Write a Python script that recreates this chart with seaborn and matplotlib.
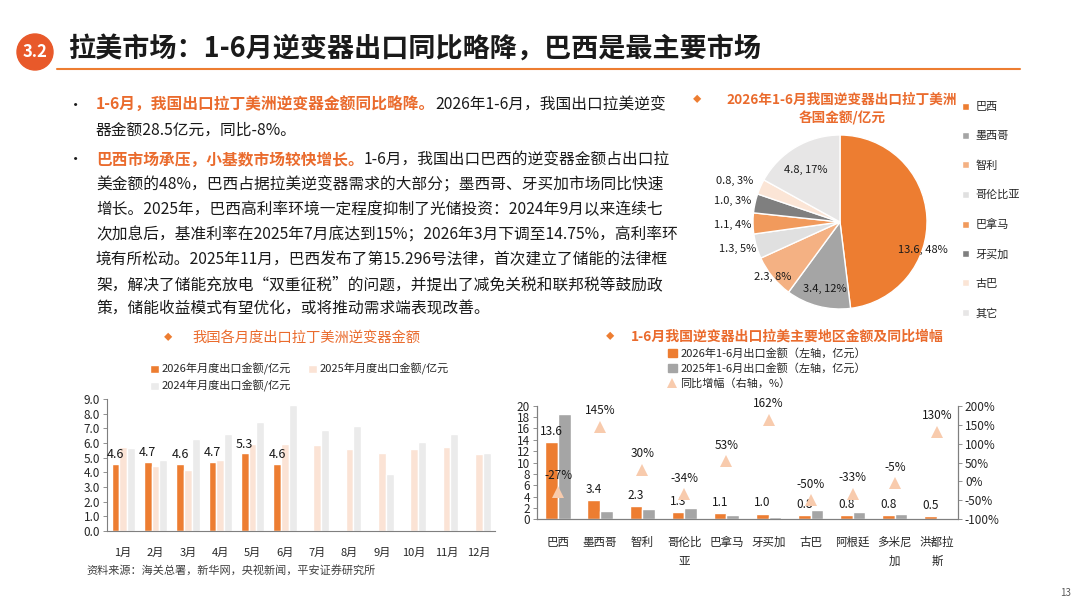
import numpy as np
import pandas as pd
import seaborn as sns
import matplotlib.pyplot as plt
from matplotlib.patches import Circle, Patch
from matplotlib.lines import Line2D
from matplotlib.ticker import FuncFormatter

sns.set_theme(style='white')
plt.rcParams['font.family'] = ['Noto Sans CJK SC', 'DejaVu Sans']
plt.rcParams['axes.unicode_minus'] = False

ORANGE = '#ED7D31'
TITLE_ORANGE = '#EA6B2D'
TEXT = '#1A1A1A'
AXIS = '#7F7F7F'

# ---- data: monthly exports to Latin America (亿元)
months = ['1月', '2月', '3月', '4月', '5月', '6月', '7月', '8月', '9月', '10月', '11月', '12月']
export_2026 = [4.6, 4.7, 4.6, 4.7, 5.3, 4.6, np.nan, np.nan, np.nan, np.nan, np.nan, np.nan]
export_2025 = [5.75, 4.43, 4.15, 4.84, 5.91, 5.94, 5.87, 5.59, 5.30, 5.57, 5.75, 5.25]
export_2024 = [5.64, 4.84, 6.26, 6.62, 7.40, 8.61, 6.89, 7.19, 3.86, 6.10, 6.62, 5.30]
month_series = ['2026年月度出口金额/亿元', '2025年月度出口金额/亿元', '2024年月度出口金额/亿元']

# ---- data: H1 exports by region
regions = ['巴西', '墨西哥', '智利', '哥伦比亚', '巴拿马', '牙买加', '古巴', '阿根廷', '多米尼加', '洪都拉斯']
region_ticks = ['巴西', '墨西哥', '智利', '哥伦比\n亚', '巴拿马', '牙买加', '古巴', '阿根廷', '多米尼\n加', '洪都拉\n斯']
h1_2026 = [13.6, 3.4, 2.3, 1.3, 1.1, 1.0, 0.8, 0.8, 0.8, 0.5]
h1_2025 = [18.6, 1.4, 1.8, 2.0, 0.7, 0.4, 1.6, 1.2, 0.85, 0.2]
yoy = [-27, 145, 30, -34, 53, 162, -50, -33, -5, 130]
region_series = ['2026年1-6月出口金额（左轴，亿元）', '2025年1-6月出口金额（左轴，亿元）']

# ---- data: pie
pie_labels = ['巴西', '墨西哥', '智利', '哥伦比亚', '巴拿马', '牙买加', '古巴', '其它']
pie_values = [13.6, 3.4, 2.3, 1.3, 1.1, 1.0, 0.8, 4.8]
pie_shares = [48, 12, 8, 5, 4, 3, 3, 17]
pie_colors = ['#ED7D31', '#A5A5A5', '#F4B183', '#E0E0E0', '#F19A5C', '#7F7F7F', '#FBE5D6', '#E7E6E6']
# label anchor points, in pie-radius units (layout only)
pie_label_pos = [(0.95, -0.32), (-0.18, -0.77), (-0.77, -0.63), (-1.18, -0.31),
                 (-1.23, -0.03), (-1.23, 0.24), (-1.21, 0.47), (-0.39, 0.60)]

fig = plt.figure(figsize=(10.8, 6.08), dpi=100)
bg = fig.add_axes([0, 0, 1, 1])
bg.set_xlim(0, 1080)
bg.set_ylim(608, 0)
bg.axis('off')

# header
bg.add_patch(Circle((35, 52), 18, color='#E8592A'))
bg.text(35, 52, '3.2', color='white', fontsize=12, fontweight='bold', ha='center', va='center')
bg.text(68, 50, '拉美市场：1-6月逆变器出口同比略降，巴西是最主要市场', fontsize=19.5,
        fontweight='bold', va='center', color=TEXT)
bg.plot([57, 1020], [69, 69], color=ORANGE, lw=1.5)

# body text
def rich_line(y, parts, x=96, size=11.3):
    prev = None
    for txt, color, weight in parts:
        if prev is None:
            prev = bg.text(x, y, txt, color=color, fontweight=weight, fontsize=size, va='center')
        else:
            prev = bg.annotate(txt, xy=(1, 0), xycoords=prev, va='bottom', color=color,
                               fontweight=weight, fontsize=size)

lines = [
    (105, [('1-6月，我国出口拉丁美洲逆变器金额同比略降。', TITLE_ORANGE, 'bold'),
           ('2026年1-6月，我国出口拉美逆变', TEXT, 'normal')]),
    (130, [('器金额28.5亿元，同比-8%。', TEXT, 'normal')]),
    (160, [('巴西市场承压，小基数市场较快增长。', TITLE_ORANGE, 'bold'),
           ('1-6月，我国出口巴西的逆变器金额占出口拉', TEXT, 'normal')]),
    (185, [('美金额的48%，巴西占据拉美逆变器需求的大部分；墨西哥、牙买加市场同比快速', TEXT, 'normal')]),
    (210, [('增长。2025年，巴西高利率环境一定程度抑制了光储投资：2024年9月以来连续七', TEXT, 'normal')]),
    (235, [('次加息后，基准利率在2025年7月底达到15%；2026年3月下调至14.75%，高利率环', TEXT, 'normal')]),
    (260, [('境有所松动。2025年11月，巴西发布了第15.296号法律，首次建立了储能的法律框', TEXT, 'normal')]),
    (285, [('架，解决了储能充放电“双重征税”的问题，并提出了减免关税和联邦税等鼓励政', TEXT, 'normal')]),
    (309, [('策，储能收益模式有望优化，或将推动需求端表现改善。', TEXT, 'normal')]),
]
for y, parts in lines:
    rich_line(y, parts)
for y in (105, 160):
    bg.text(76, y, '•', fontsize=11, color=TEXT, ha='center', va='center')

# chart titles
bg.text(168, 338, '◆', color=ORANGE, fontsize=6, ha='center', va='center')
bg.text(192, 338, '我国各月度出口拉丁美洲逆变器金额', color=TITLE_ORANGE, fontsize=10.3, va='center')
bg.text(610, 337, '◆', color=ORANGE, fontsize=6, ha='center', va='center')
bg.text(631, 337, '1-6月我国逆变器出口拉美主要地区金额及同比增幅', color=TITLE_ORANGE,
        fontsize=10, fontweight='bold', va='center')
bg.text(697, 100, '◆', color=ORANGE, fontsize=6, ha='center', va='center')
bg.text(842, 100, '2026年1-6月我国逆变器出口拉丁美洲', color=TITLE_ORANGE, fontsize=9.8,
        fontweight='bold', ha='center', va='center')
bg.text(842, 118, '各国金额/亿元', color=TITLE_ORANGE, fontsize=9.8,
        fontweight='bold', ha='center', va='center')

# ---- monthly bar chart
ax1 = fig.add_axes([0.0991, 0.1266, 0.3593, 0.2171])
df_m = pd.DataFrame({
    '月份': months * 3,
    '系列': [s for s in month_series for _ in months],
    '金额': export_2026 + export_2025 + export_2024,
})
sns.barplot(data=df_m, x='月份', y='金额', hue='系列', hue_order=month_series,
            palette=[ORANGE, '#FBE3D5', '#EBEBEB'], width=0.72, saturation=1,
            errorbar=None, ax=ax1)
handles, labels = ax1.get_legend_handles_labels()
ax1.get_legend().remove()
ax1.bar_label(ax1.containers[0], fmt='%.1f', padding=2, fontsize=9, color=TEXT)
ax1.set_ylim(0, 9)
ax1.set_yticks(np.arange(0, 9.1, 1.0))
ax1.yaxis.set_major_formatter(FuncFormatter(lambda v, p: f'{v:.1f}'))
ax1.set_xlabel('')
ax1.set_ylabel('')
for side in ('top', 'right'):
    ax1.spines[side].set_visible(False)
for side in ('left', 'bottom'):
    ax1.spines[side].set_color(AXIS)
    ax1.spines[side].set_linewidth(0.8)
ax1.tick_params(axis='y', left=True, length=3, width=0.6, color=AXIS, labelsize=8.5, pad=2)
ax1.tick_params(axis='x', bottom=False, labelsize=8, pad=6)
# legend laid out row-wise: 2026, 2025 / 2024
order = [0, 2, 1]
fig.legend([handles[i] for i in order], [labels[i] for i in order], ncol=2, loc='upper left',
           bbox_to_anchor=(150 / 1080, 1 - 363 / 608),
           frameon=False, fontsize=8, handlelength=0.8, handleheight=0.8, handletextpad=0.2,
           columnspacing=1.6, labelspacing=0.45, borderpad=0, borderaxespad=0)

# ---- regional bar chart with YoY on twin axis
ax2 = fig.add_axes([0.4972, 0.1459, 0.3898, 0.1868])
df_r = pd.DataFrame({
    '地区': regions * 2,
    '系列': [s for s in region_series for _ in regions],
    '金额': h1_2026 + h1_2025,
})
sns.barplot(data=df_r, x='地区', y='金额', hue='系列', hue_order=region_series,
            palette=[ORANGE, '#A5A5A5'], width=0.6, saturation=1, errorbar=None,
            legend=False, ax=ax2)
ax2.bar_label(ax2.containers[0], fmt='%.1f', padding=3, fontsize=8.5, color=TEXT)
ax2b = ax2.twinx()
sns.pointplot(x=regions, y=yoy, linestyle='none', marker='^', color='#F8CBAD',
              markersize=8, markeredgewidth=0, errorbar=None, ax=ax2b)
pts = ax2b.lines[0].get_xydata()
for (px, py), v in zip(pts, yoy):
    ax2b.annotate(f'{v}%', (px, py), xytext=(0, 7), textcoords='offset points',
                  ha='center', va='bottom', fontsize=8.5, color=TEXT)
ax2b.set_ylim(-100, 200)
ax2b.set_yticks(range(-100, 201, 50))
ax2b.yaxis.set_major_formatter(FuncFormatter(lambda v, p: f'{v:.0f}%'))
ax2.set_ylim(0, 20)
ax2.set_yticks(range(0, 21, 2))
ax2.set_xticks(range(len(regions)))
ax2.set_xticklabels(region_ticks, linespacing=1.6)
ax2.set_xlim(-0.5, len(regions) - 0.5)
for a in (ax2, ax2b):
    a.set_xlabel('')
    a.set_ylabel('')
    a.spines['top'].set_visible(False)
    for side in ('left', 'bottom', 'right'):
        a.spines[side].set_color(AXIS)
        a.spines[side].set_linewidth(0.8)
ax2.tick_params(axis='y', left=True, length=3, width=0.6, color=AXIS, labelsize=8.5, pad=2)
ax2.tick_params(axis='x', bottom=False, labelsize=8.3, pad=6)
ax2b.tick_params(axis='y', right=True, length=3, width=0.6, color=AXIS, labelsize=8.5, pad=2)

leg_handles = [Patch(color=ORANGE), Patch(color='#A5A5A5'),
               Line2D([], [], linestyle='none', marker='^', color='#F8CBAD', markersize=6.5,
                      markeredgewidth=0)]
fig.legend(leg_handles, region_series + ['同比增幅（右轴，%）'], loc='upper left',
           bbox_to_anchor=(668 / 1080, 1 - 348 / 608), frameon=False, fontsize=8,
           handlelength=0.8, handleheight=0.8, handletextpad=0.3, labelspacing=0.38,
           borderpad=0, borderaxespad=0)

# ---- pie chart
ax3 = fig.add_axes([(840 - 87) / 1080, 1 - (222 + 87) / 608, 174 / 1080, 174 / 608])
wedges, _ = ax3.pie(pie_values, colors=pie_colors, startangle=90, counterclock=False,
                    wedgeprops=dict(edgecolor='white', linewidth=1))
ax3.set_xlim(-1, 1)
ax3.set_ylim(-1, 1)
for (lx, ly), v, s in zip(pie_label_pos, pie_values, pie_shares):
    ax3.text(lx, ly, f'{v:.1f}, {s}%', ha='center', va='center', fontsize=8, color=TEXT)
fig.legend(wedges, pie_labels, loc='upper left', bbox_to_anchor=(962 / 1080, 1 - 102 / 608),
           frameon=False, fontsize=8, handlelength=0.6, handleheight=0.6, handletextpad=0.6,
           labelspacing=1.72, borderpad=0, borderaxespad=0)

# footer
bg.text(86, 570, '资料来源：海关总署，新华网，央视新闻，平安证券研究所', fontsize=8,
        color='#404040', va='center')
bg.text(1066, 593, '13', fontsize=7, color='#595959', ha='center', va='center')

fig.savefig('out.png', dpi=100, facecolor='white')
